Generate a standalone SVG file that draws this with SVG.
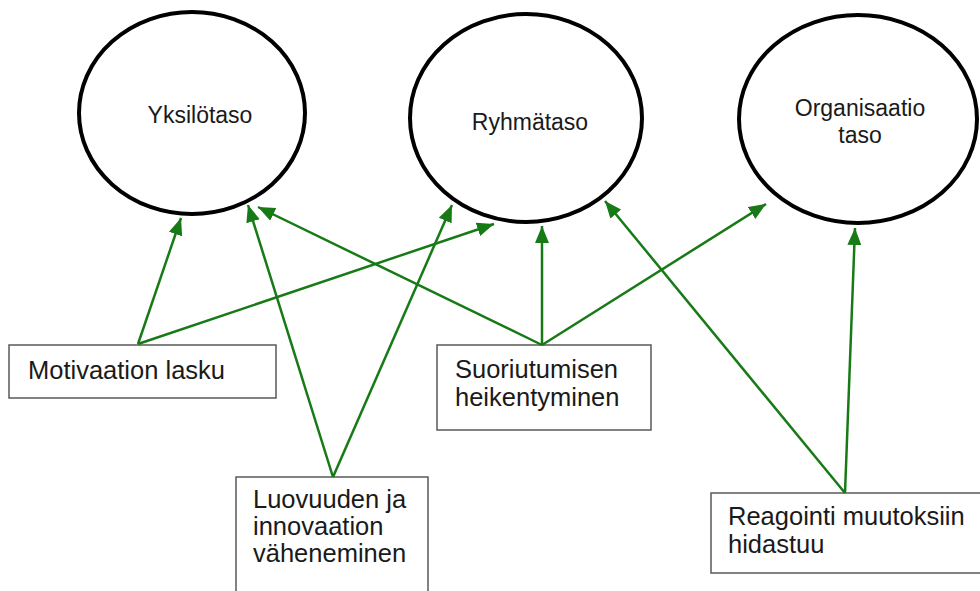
<svg xmlns="http://www.w3.org/2000/svg" width="980" height="591" viewBox="0 0 980 591">
<defs>
<marker id="ah" markerUnits="userSpaceOnUse" markerWidth="17" markerHeight="14" refX="17" refY="7" orient="auto">
<path d="M0,0 L17,7 L0,14 z" fill="#177a17"/>
</marker>
<style>
.ell{fill:#fff;stroke:#000;stroke-width:4}
.box{fill:#fff;stroke:#595959;stroke-width:1.5}
.et{font-family:"Liberation Sans",Arial,sans-serif;font-size:23px;fill:#1a1a1a;text-anchor:middle}
.bt{font-family:"Liberation Sans",Arial,sans-serif;font-size:25.5px;fill:#1a1a1a}
.con line{stroke:#177a17;stroke-width:2.5;marker-end:url(#ah)}
</style>
</defs>
<rect width="980" height="591" fill="#fff"/>
<g id="n-yksilo">
<ellipse class="ell" cx="192" cy="113" rx="113" ry="101"/>
<text class="et" x="200" y="123">Yksilötaso</text>
</g>
<g id="n-ryhma">
<ellipse class="ell" cx="526" cy="118" rx="116" ry="104"/>
<text class="et" x="530" y="130">Ryhmätaso</text>
</g>
<g id="n-org">
<ellipse class="ell" cx="858" cy="119" rx="119" ry="104"/>
<text class="et" x="860" y="116">Organisaatio</text>
<text class="et" x="860" y="143">taso</text>
</g>
<g id="n-motivaatio">
<rect class="box" x="9" y="345" width="267" height="53"/>
<text class="bt" x="28" y="379">Motivaation lasku</text>
</g>
<g id="n-suoriutuminen">
<rect class="box" x="437" y="345" width="214" height="85"/>
<text class="bt" x="455" y="378">Suoriutumisen</text>
<text class="bt" x="455" y="406">heikentyminen</text>
</g>
<g id="n-luovuus">
<rect class="box" x="236" y="477" width="192" height="130"/>
<text class="bt" x="253" y="508">Luovuuden ja</text>
<text class="bt" x="253" y="535">innovaation</text>
<text class="bt" x="253" y="562">väheneminen</text>
</g>
<g id="n-reagointi">
<rect class="box" x="711" y="493" width="290" height="80"/>
<text class="bt" x="728" y="525">Reagointi muutoksiin</text>
<text class="bt" x="728" y="553">hidastuu</text>
</g>
<g id="connectors" class="con">
<line x1="138" y1="344" x2="181" y2="218"/>
<line x1="138" y1="344" x2="494" y2="224"/>
<line x1="333" y1="477" x2="248" y2="205"/>
<line x1="333" y1="477" x2="452" y2="205"/>
<line x1="542" y1="345" x2="258" y2="207"/>
<line x1="542" y1="345" x2="542" y2="226"/>
<line x1="542" y1="345" x2="766" y2="204"/>
<line x1="845" y1="493" x2="605" y2="201"/>
<line x1="845" y1="493" x2="855" y2="228"/>
</g>
</svg>
